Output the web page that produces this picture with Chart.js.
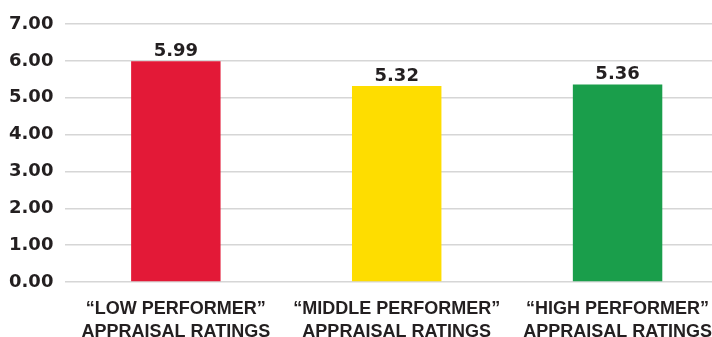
<!DOCTYPE html>
<html>
<head>
<meta charset="utf-8">
<script src="https://cdn.jsdelivr.net/npm/chart.js@4"></script>
<style>
html,body{margin:0;padding:0;background:#fff;overflow:hidden;}
#wrap{width:728px;height:337px;}
</style>
</head>
<body>
<div id="wrap"><canvas id="c" width="728" height="337"></canvas></div>
<script>
const categories = [
  ["\u201cLOW PERFORMER\u201d", "APPRAISAL RATINGS"],
  ["\u201cMIDDLE PERFORMER\u201d", "APPRAISAL RATINGS"],
  ["\u201cHIGH PERFORMER\u201d", "APPRAISAL RATINGS"]
];
const values = [5.99, 5.32, 5.36];
const barColors = ["#e31937", "#fedd00", "#1a9e4b"];
const yTicks = [0, 1, 2, 3, 4, 5, 6, 7];

const textColor = "#231f20";

const valueLabels = {
  id: "valueLabels",
  afterDatasetsDraw(chart) {
    const ctx = chart.ctx;
    const meta = chart.getDatasetMeta(0);
    ctx.save();
    ctx.font = "bold 18px 'DejaVu Sans'";
    ctx.fillStyle = textColor;
    ctx.textAlign = "center";
    ctx.textBaseline = "alphabetic";
    meta.data.forEach((bar, i) => {
      ctx.fillText(values[i].toFixed(2), bar.x, bar.y - 5);
    });
    ctx.restore();
  }
};

new Chart(document.getElementById("c"), {
  type: "bar",
  data: {
    labels: categories,
    datasets: [{
      data: values,
      backgroundColor: barColors,
      borderWidth: 0,
      barPercentage: 0.405,
      categoryPercentage: 1
    }]
  },
  options: {
    responsive: false,
    animation: false,
    devicePixelRatio: 1,
    layout: { padding: { top: 24, left: -3, right: 0, bottom: -22 } },
    plugins: { legend: { display: false }, tooltip: { enabled: false } },
    scales: {
      x: {
        grid: { display: false, drawTicks: false },
        border: { display: false },
        ticks: {
          color: textColor,
          font: { family: "'Liberation Sans Narrow', 'Liberation Sans'", weight: "bold", size: 18, lineHeight: 1.25 },
          padding: 16,
          maxRotation: 0,
          autoSkip: false
        }
      },
      y: {
        min: 0,
        max: 7,
        afterBuildTicks(scale) { scale.ticks = yTicks.map(v => ({ value: v })); },
        grid: { color: "#d6d6d6", lineWidth: 1.5, drawTicks: false },
        border: { display: false },
        ticks: {
          color: textColor,
          font: { family: "'DejaVu Sans'", weight: "bold", size: 18 },
          padding: 12,
          callback: v => Number(v).toFixed(2)
        }
      }
    }
  },
  plugins: [valueLabels]
});
</script>
</body>
</html>
